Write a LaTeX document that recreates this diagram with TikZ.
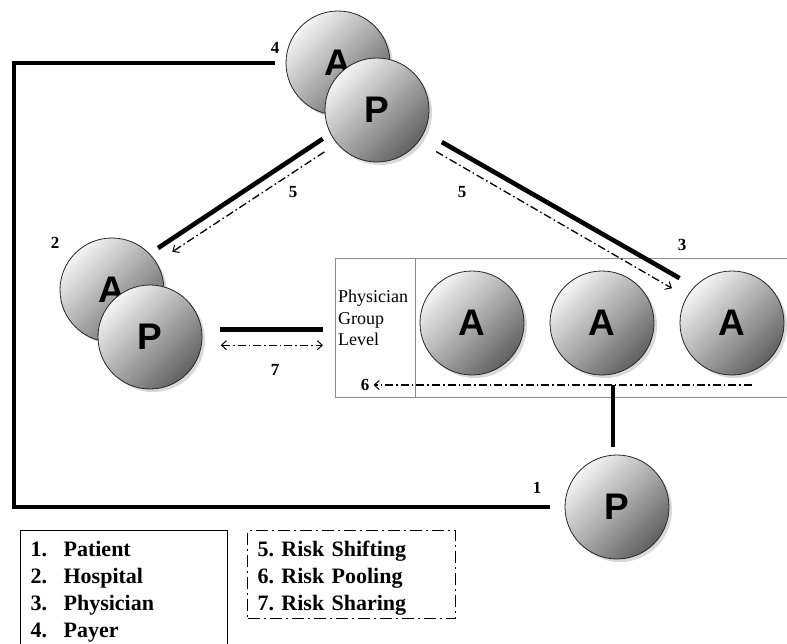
\documentclass[tikz,border=0pt]{standalone}
\usepackage{fontspec}
\setmainfont{Liberation Serif}
\newfontfamily\circfont{Liberation Sans}
\usetikzlibrary{arrows.meta,shadows}
\frenchspacing

\begin{document}
\begin{tikzpicture}[x=1pt,y=-1pt,>={Straight Barb[length=5pt,width=9pt,line width=1pt]},
	actor/.style={circle,minimum size=104pt,inner sep=0pt,draw=black!85,line width=0.8pt,
		top color=black!4,bottom color=black!62,shading angle=45,
		drop shadow={shadow xshift=3pt,shadow yshift=-3pt,opacity=0.3},
		font=\circfont\bfseries\fontsize{37}{37}\selectfont},
	heavy/.style={line width=4.6pt},
	risk/.style={line width=1.3pt,dash pattern=on 8pt off 3pt on 1.6pt off 3pt},
	num/.style={inner sep=0pt,font=\bfseries\fontsize{17}{17}\selectfont},
	frame/.style={draw=black!45,line width=0.8pt,anchor=north west,inner sep=0pt}]
	\clip (0,0) rectangle (787,643);
	% payer
	\node[actor] (payA) at (338,63) {A};
	\node[actor] (payP) at (377,110) {P};
	% hospital
	\node[actor] (hosA) at (112,290) {A};
	\node[actor] (hosP) at (150,337) {P};
	% physician group
	\node[frame,minimum width=455pt,minimum height=139pt] (grp) at (335,258) {};
	\node[frame,minimum width=80pt,minimum height=139pt] (lvl) at (335,258) {};
	\node[anchor=north west,inner sep=0pt,align=left,font=\fontsize{18}{21.5}\selectfont] (lvltext) at (338,290) {Physician\\Group\\Level};
	\node[actor] (phyA1) at (472,323) {A};
	\node[actor] (phyA2) at (602,323) {A};
	\node[actor] (phyA3) at (732,323) {A};
	% patient
	\node[actor] (patP) at (617,507) {P};

	\coordinate (bend) at (14,63);
	\draw[heavy,shorten <=11pt,shorten >=15pt] (payA.west) -- (bend) |- (patP.west);
	\draw[heavy,shorten <=9pt,shorten >=10pt] (payP.207) -- (hosA.44);
	\draw[risk,->,shorten <=15pt,shorten >=19pt] (payP.220) -- (hosA.32);
	\draw[heavy,shorten <=20pt,shorten >=17pt] (payP.335) -- (phyA3.136);
	\draw[risk,->,shorten <=20pt,shorten >=17pt] (payP.323) -- (phyA3.150);
	\draw[heavy,shorten <=18pt,shorten >=12pt] (hosP.8) -- (hosP.8 -| lvl.west);
	\draw[risk,<->,shorten <=19pt,shorten >=12pt] (hosP.-9) -- (hosP.-9 -| lvl.west);
	\coordinate (poolstart) at (752,385);
	\node[num] (six) at (365,385) {6};
	\draw[risk,->,shorten >=8.5pt] (poolstart) -- (six.center);
	\coordinate (ptop) at (613,455);
	\draw[heavy,shorten <=8pt] (ptop) -- (ptop |- poolstart);

	\node[num] (lab4) at (275,48) {4};
	\node[num] (lab1) at (537,488) {1};
	\node[num] (lab2) at (55,243) {2};
	\node[num] (lab3) at (682,245) {3};
	\node[num] (lab5a) at (293,192) {5};
	\node[num] (lab5b) at (462,192) {5};
	\node[num] (lab7) at (275,370) {7};

	% legends
	\node[draw,line width=1.2pt,anchor=north west,text width=187pt,inner xsep=10pt,inner ysep=11pt,
		align=left,font=\bfseries\fontsize{22}{27}\selectfont] (roles) at (20,530)
		{\makebox[33pt][l]{1.}Patient\\\makebox[33pt][l]{2.}Hospital\\\makebox[33pt][l]{3.}Physician\\\makebox[33pt][l]{4.}Payer};
	\node[draw,line width=1.3pt,dash pattern=on 12pt off 4pt on 2pt off 4pt,anchor=north west,
		minimum width=208pt,minimum height=88pt,text width=188pt,inner xsep=10pt,inner ysep=0pt,
		align=left,font=\bfseries\fontsize{22}{27}\selectfont] (risks) at (247,530)
		{\rule{0pt}{23pt}5. Risk Shifting\\6. Risk Pooling\\7. Risk Sharing};
\end{tikzpicture}
\end{document}
